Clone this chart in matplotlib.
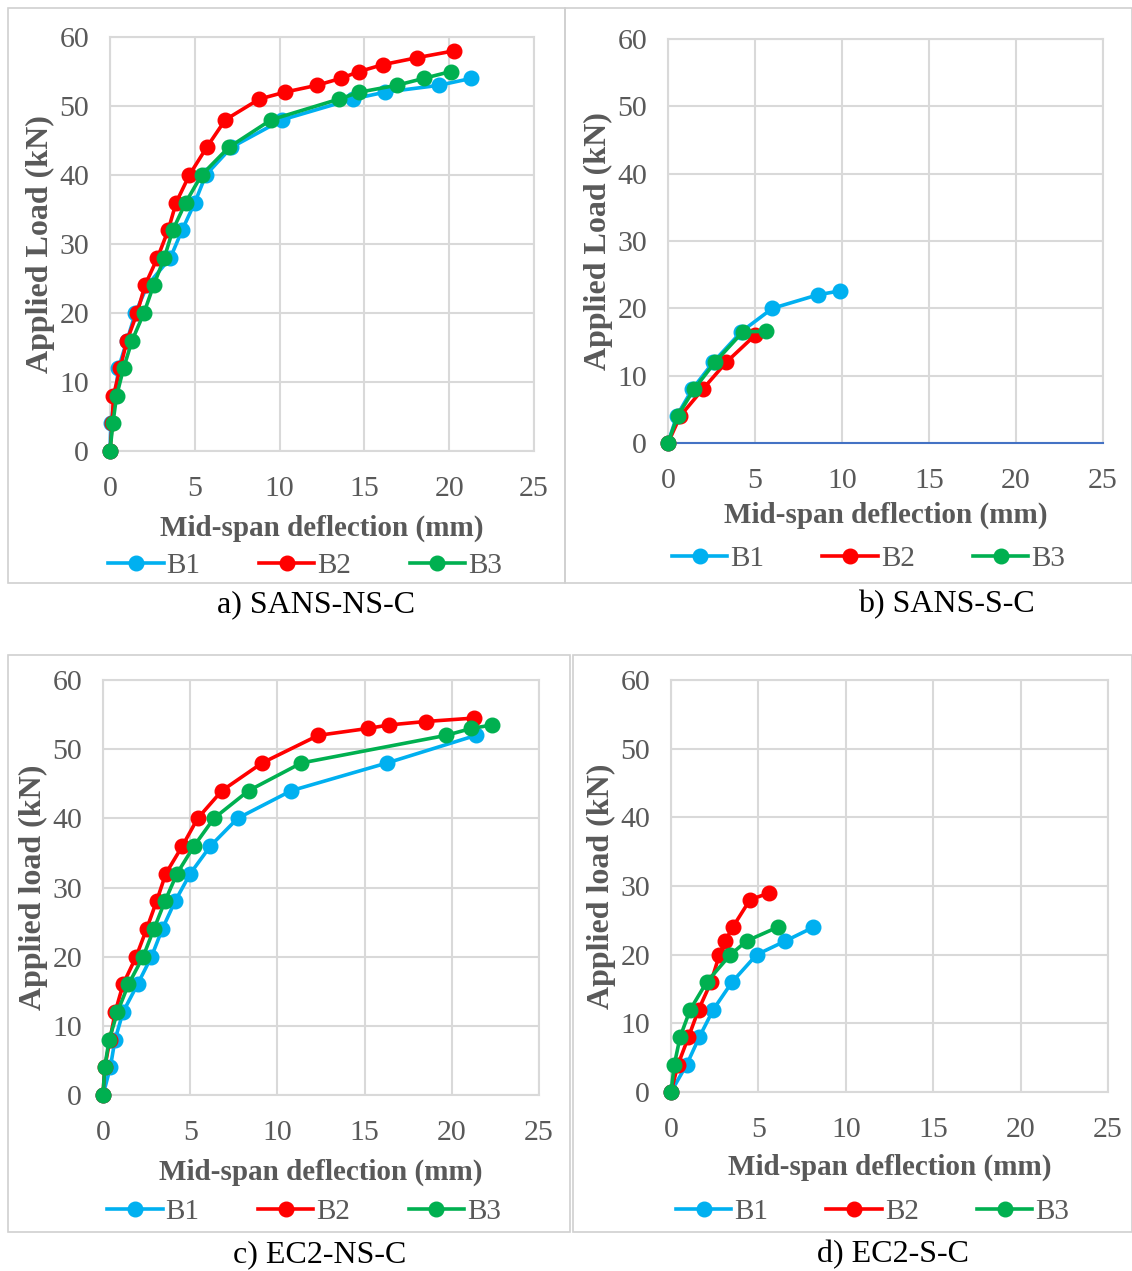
import matplotlib.pyplot as plt
from matplotlib.patches import Rectangle

plt.rcParams['font.family'] = ['Liberation Serif', 'DejaVu Serif']

# a) SANS-NS-C
a_b1_x = [0, 0.05, 0.3, 0.5, 1.0, 1.5, 2.2, 3.56, 4.25, 5.0, 5.65, 7.15, 10.15, 14.3, 16.2, 19.4, 21.3]
a_b1_y = [0, 4, 8, 12, 16, 20, 24, 28, 32, 36, 40, 44, 48, 51, 52, 53, 54]
a_b2_x = [0, 0.13, 0.2, 0.6, 1.0, 1.6, 2.06, 2.8, 3.43, 3.9, 4.68, 5.7, 6.8, 8.8, 10.3, 12.2, 13.6, 14.7, 16.1, 18.1, 20.3]
a_b2_y = [0, 4, 8, 12, 16, 20, 24, 28, 32, 36, 40, 44, 48, 51, 52, 53, 54, 55, 56, 57, 58]
a_b3_x = [0, 0.17, 0.39, 0.8, 1.3, 2.0, 2.57, 3.2, 3.7, 4.46, 5.4, 7.0, 9.5, 13.5, 14.7, 16.9, 18.5, 20.1]
a_b3_y = [0, 4, 8, 12, 16, 20, 24, 28, 32, 36, 40, 44, 48, 51, 52, 53, 54, 55]

# b) SANS-S-C
b_b1_x = [0, 0.5, 1.4, 2.6, 4.2, 6.0, 8.6, 9.9]
b_b1_y = [0, 4, 8, 12, 16.5, 20, 22, 22.6]
b_b2_x = [0, 0.7, 2.0, 3.35, 5.0]
b_b2_y = [0, 4, 8, 12, 16]
b_b3_x = [0, 0.55, 1.5, 2.7, 4.3, 5.65]
b_b3_y = [0, 4, 8, 12, 16.5, 16.6]

# c) EC2-NS-C
c_b1_x = [0, 0.42, 0.69, 1.15, 1.98, 2.78, 3.4, 4.13, 5.0, 6.16, 7.72, 10.8, 16.28, 21.39]
c_b1_y = [0, 4, 8, 12, 16, 20, 24, 28, 32, 36, 40, 44, 48, 52]
c_b2_x = [0, 0.1, 0.4, 0.7, 1.15, 1.9, 2.5, 3.07, 3.6, 4.55, 5.43, 6.82, 9.12, 12.35, 15.2, 16.4, 18.5, 21.3]
c_b2_y = [0, 4, 8, 12, 16, 20, 24, 28, 32, 36, 40, 44, 48, 52, 53, 53.5, 54, 54.5]
c_b3_x = [0, 0.1, 0.35, 0.83, 1.46, 2.3, 2.92, 3.55, 4.24, 5.22, 6.36, 8.35, 11.37, 19.68, 21.12, 22.33]
c_b3_y = [0, 4, 8, 12, 16, 20, 24, 28, 32, 36, 40, 44, 48, 52, 53, 53.5]

# d) EC2-S-C
d_b1_x = [0, 0.9, 1.62, 2.42, 3.49, 4.9, 6.55, 8.15]
d_b1_y = [0, 4, 8, 12, 16, 20, 22, 24]
d_b2_x = [0, 0.4, 1.0, 1.58, 2.29, 2.77, 3.1, 3.53, 4.52, 5.63]
d_b2_y = [0, 4, 8, 12, 16, 20, 22, 24, 28, 29]
d_b3_x = [0, 0.19, 0.52, 1.1, 2.04, 3.4, 4.33, 6.1]
d_b3_y = [0, 4, 8, 12, 16, 20, 22, 24]

labels = ['B1', 'B2', 'B3']
colors = ['#00B0F0', '#FF0000', '#00B050']
grey = '#595959'
gridc = '#D9D9D9'

W, H = 1132, 1271
fig = plt.figure(figsize=(W / 100, H / 100), dpi=100)


def px_box(x0, y0, x1, y1):
    # pixel box (top-left origin) -> figure fraction
    return [x0 / W, 1 - y1 / H, (x1 - x0) / W, (y1 - y0) / H]


panels = [
    dict(plot=(110, 37, 534, 451), border=(8, 8, 565, 583), caption=(316, 605), text='a) SANS-NS-C',
         ylabel='Applied Load (kN)', xlab_y=528, leg_y=566,
         data=[(a_b1_x, a_b1_y), (a_b2_x, a_b2_y), (a_b3_x, a_b3_y)]),
    dict(plot=(668, 39, 1103, 443), border=(565, 8, 1132, 583), caption=(946, 605), text='b) SANS-S-C',
         ylabel='Applied Load (kN)', xlab_y=515, leg_y=559, blue_axis=True,
         data=[(b_b1_x, b_b1_y), (b_b2_x, b_b2_y), (b_b3_x, b_b3_y)]),
    dict(plot=(103, 680, 539, 1095), border=(8, 655, 570, 1232), caption=(320, 1255), text='c) EC2-NS-C',
         ylabel='Applied load (kN)', xlab_y=1172, leg_y=1212,
         data=[(c_b1_x, c_b1_y), (c_b2_x, c_b2_y), (c_b3_x, c_b3_y)]),
    dict(plot=(671, 680, 1108, 1092), border=(573, 655, 1132, 1232), caption=(893, 1255), text='d) EC2-S-C',
         ylabel='Applied load (kN)', xlab_y=1167, leg_y=1212,
         data=[(d_b1_x, d_b1_y), (d_b2_x, d_b2_y), (d_b3_x, d_b3_y)]),
]

for p in panels:
    bx0, by0, bx1, by1 = p['border']
    fig.patches.append(Rectangle((bx0 / W, 1 - by1 / H), (bx1 - bx0) / W, (by1 - by0) / H,
                                 transform=fig.transFigure, fill=False, edgecolor='#D0D0D0', lw=1.2))

    ax = fig.add_axes(px_box(*p['plot']))
    for (xs, ys), lab, c in zip(p['data'], labels, colors):
        ax.plot(xs, ys, '-o', color=c, lw=2.6, ms=10.5, label=lab, clip_on=False, zorder=3)

    ax.set_xlim(0, 25)
    ax.set_ylim(0, 60)
    ax.set_xticks(range(0, 26, 5))
    ax.set_yticks(range(0, 61, 10))
    ax.grid(True, color=gridc, lw=1.5)
    ax.set_axisbelow(True)
    for s in ax.spines.values():
        s.set_color(gridc)
        s.set_linewidth(1.5)
    if p.get('blue_axis'):
        ax.spines['bottom'].set_color('#4472C4')
    ax.tick_params(length=0, labelsize=21.5, labelcolor=grey)
    ax.tick_params(axis='x', pad=18)
    ax.tick_params(axis='y', pad=15)

    ax.set_ylabel(p['ylabel'], fontsize=23, fontweight='bold', color=grey, labelpad=3)
    x0, y0, x1, y1 = p['plot']
    fig.text((x0 + x1) / 2 / W, 1 - p['xlab_y'] / H, 'Mid-span deflection (mm)', fontsize=21,
             fontweight='bold', color=grey, ha='center', va='center')
    ax.legend(loc='center', bbox_to_anchor=((x0 + x1) / 2 / W - 0.015, 1 - p['leg_y'] / H),
              bbox_transform=fig.transFigure, ncol=3, frameon=False, fontsize=21,
              labelcolor=grey, handlelength=1.9, handletextpad=0.1, columnspacing=2.0)
    fig.text(p['caption'][0] / W, 1 - p['caption'][1] / H, p['text'], fontsize=23,
             ha='center', va='center', color='black')

fig.savefig('out.png', dpi=100, facecolor='white')
